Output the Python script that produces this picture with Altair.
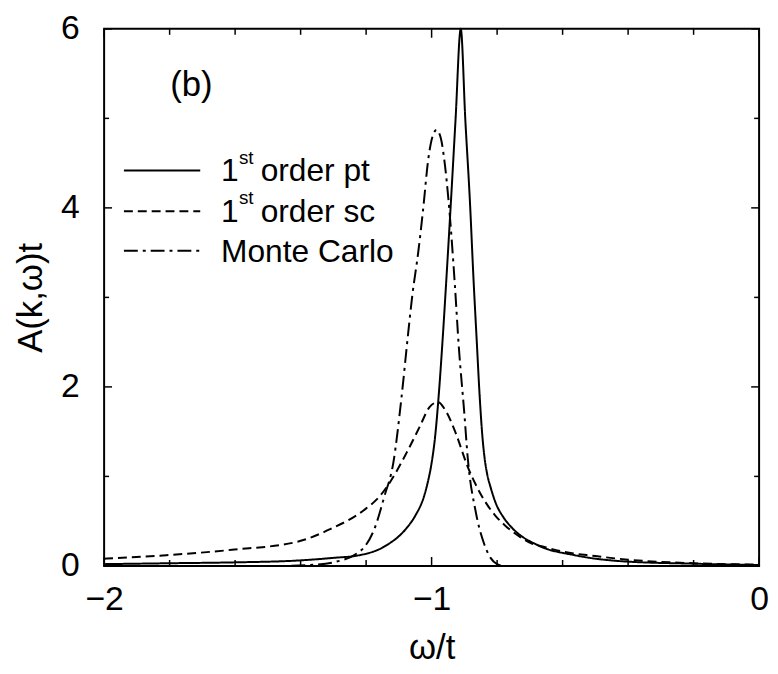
import altair as alt
import pandas as pd

FONT = "Liberation Sans"
W, H = 661, 542

series_names = ["1st order pt", "1st order sc", "Monte Carlo"]

pt_x = [-2.0, -1.8, -1.6, -1.41, -1.3, -1.22, -1.138, -1.077, -1.05, -1.023, -1.012, -1.0, -0.99,
        -0.978, -0.966, -0.955, -0.941, -0.927, -0.911, -0.897, -0.883, -0.872, -0.862, -0.853,
        -0.845, -0.838, -0.83, -0.82, -0.805, -0.78, -0.753, -0.675, -0.563, -0.41, -0.2, 0.0]
pt_y = [0.02, 0.03, 0.04, 0.06, 0.09, 0.12, 0.23, 0.42, 0.56, 0.78, 0.93, 1.15, 1.42,
        1.92, 2.55, 3.2, 4.07, 4.98, 6.0, 4.98, 4.07, 3.2, 2.5, 1.88,
        1.45, 1.2, 1.02, 0.88, 0.71, 0.54, 0.42, 0.23, 0.12, 0.05, 0.025, 0.01]

sc_x = [-2.0, -1.81, -1.61, -1.41, -1.31, -1.208, -1.158, -1.128, -1.077, -1.037, -1.007, -0.981,
        -0.955, -0.926, -0.89, -0.86, -0.835, -0.805, -0.775, -0.744, -0.694, -0.664, -0.6, -0.5,
        -0.4, -0.3, -0.2, -0.1, 0.0]
sc_y = [0.08, 0.12, 0.18, 0.27, 0.41, 0.62, 0.78, 0.93, 1.26, 1.55, 1.77, 1.83,
        1.72, 1.48, 1.11, 0.87, 0.71, 0.56, 0.45, 0.36, 0.25, 0.22, 0.16, 0.11,
        0.07, 0.045, 0.03, 0.02, 0.015]

mc_x = [-2.0, -1.45, -1.37, -1.30, -1.228, -1.208, -1.174, -1.144, -1.117, -1.092, -1.071, -1.059,
        -1.041, -1.026, -1.01, -0.997, -0.985, -0.972, -0.96, -0.948, -0.929, -0.917, -0.90,
        -0.89, -0.865, -0.84, -0.82, -0.80, -0.78, 0.0]
mc_y = [0.0, 0.0, 0.01, 0.04, 0.14, 0.2, 0.42, 0.78, 1.15, 1.88, 2.62, 3.02,
        3.5, 3.98, 4.55, 4.8, 4.87, 4.78, 4.5, 4.07, 3.14, 2.45, 1.7,
        1.22, 0.6, 0.25, 0.09, 0.02, 0.0, 0.0]

dash_patterns = [[1, 0], [9, 5], [14, 5, 3, 5]]

x_major = [-2, -1, 0]
x_minor = [-1.8, -1.6, -1.4, -1.2, -0.8, -0.6, -0.4, -0.2]
y_major = [0, 2, 4, 6]
y_minor = [1, 3, 5]

rows = []
for name, xs, ys in zip(series_names, [pt_x, sc_x, mc_x], [pt_y, sc_y, mc_y]):
    for xv, yv in zip(xs, ys):
        rows.append({"series": name, "x": xv, "y": yv})
df = pd.DataFrame(rows)

xscale = alt.Scale(domain=[-2, 0], nice=False, zero=False)
yscale = alt.Scale(domain=[0, 6], nice=False, zero=False)

lab_expr = "datum.value < 0 ? '\u2212' + format(-datum.value, 'd') : format(datum.value, 'd')"

x_axis = alt.Axis(values=x_major, title="ω/t", labelExpr=lab_expr, labelFontSize=34,
                  titleFontSize=35, ticks=False, tickSize=0, domain=False, grid=False,
                  labelPadding=17, titlePadding=14, labelFlush=False, labelOverlap=False,
                  labelColor="black", titleColor="black", labelFont=FONT, titleFont=FONT,
                  titleFontWeight="normal")
y_axis = alt.Axis(values=y_major, title="A(k,ω)t", labelFontSize=34, titleFontSize=35,
                  ticks=False, tickSize=0, domain=False, grid=False, labelPadding=25,
                  titlePadding=12, labelFlush=False, labelOverlap=False, labelColor="black",
                  titleColor="black", labelFont=FONT, titleFont=FONT, titleFontWeight="normal")

lines = alt.Chart(df).mark_line(color="black", strokeWidth=2, interpolate="monotone").encode(
    x=alt.X("x:Q", scale=xscale, axis=x_axis),
    y=alt.Y("y:Q", scale=yscale, axis=y_axis),
    strokeDash=alt.StrokeDash("series:N", scale=alt.Scale(domain=series_names, range=dash_patterns),
                              legend=None),
    detail="series:N",
)


def xticks(vals, length):
    d = pd.DataFrame({"x": vals})
    base = alt.Chart(d).mark_rule(color="black", strokeWidth=1.5)
    enc = alt.X("x:Q", scale=xscale, axis=x_axis)
    return [base.encode(x=enc, y=alt.value(H), y2=alt.value(H - length)),
            base.encode(x=enc, y=alt.value(0), y2=alt.value(length))]


def yticks(vals, length):
    d = pd.DataFrame({"y": vals})
    base = alt.Chart(d).mark_rule(color="black", strokeWidth=1.5)
    enc = alt.Y("y:Q", scale=yscale, axis=y_axis)
    return [base.encode(y=enc, x=alt.value(0), x2=alt.value(length)),
            base.encode(y=enc, x=alt.value(W), x2=alt.value(W - length))]


one = pd.DataFrame({"k": [0]})
layers = [lines]
layers += xticks(x_major, 9) + xticks(x_minor, 6) + yticks(y_major, 8) + yticks(y_minor, 5)

# panel label
layers.append(alt.Chart(one).mark_text(text="(b)", fontSize=35, font=FONT, align="center",
                                       baseline="middle", color="black").encode(
    x=alt.value(88), y=alt.value(57)))

# legend
legend_rows = [143, 184, 224]
for i, name in enumerate(series_names):
    ry = legend_rows[i]
    layers.append(alt.Chart(one).mark_rule(color="black", strokeWidth=2,
                                           strokeDash=dash_patterns[i]).encode(
        x=alt.value(20), x2=alt.value(97), y=alt.value(ry)))
    base_y = ry + 11
    if name.startswith("1st"):
        rest = name[4:]
        layers.append(alt.Chart(one).mark_text(text="1", fontSize=32, font=FONT, align="left",
                                               baseline="alphabetic", color="black").encode(
            x=alt.value(118), y=alt.value(base_y)))
        layers.append(alt.Chart(one).mark_text(text="st", fontSize=19, font=FONT, align="left",
                                               baseline="alphabetic", color="black").encode(
            x=alt.value(136), y=alt.value(base_y - 18)))
        layers.append(alt.Chart(one).mark_text(text=rest, fontSize=32, font=FONT, align="left",
                                               baseline="alphabetic", color="black").encode(
            x=alt.value(158), y=alt.value(base_y)))
    else:
        layers.append(alt.Chart(one).mark_text(text=name, fontSize=32, font=FONT, align="left",
                                               baseline="alphabetic", color="black").encode(
            x=alt.value(118), y=alt.value(base_y)))

chart = alt.layer(*layers).properties(
    width=W, height=H,
    autosize=alt.AutoSizeParams(type="none"),
    padding={"left": 97, "top": 18, "right": 11, "bottom": 104},
).configure_view(stroke="black", strokeWidth=2).configure_axis(grid=False)

chart.save("out.html", embed_options={"renderer": "svg", "actions": False})
